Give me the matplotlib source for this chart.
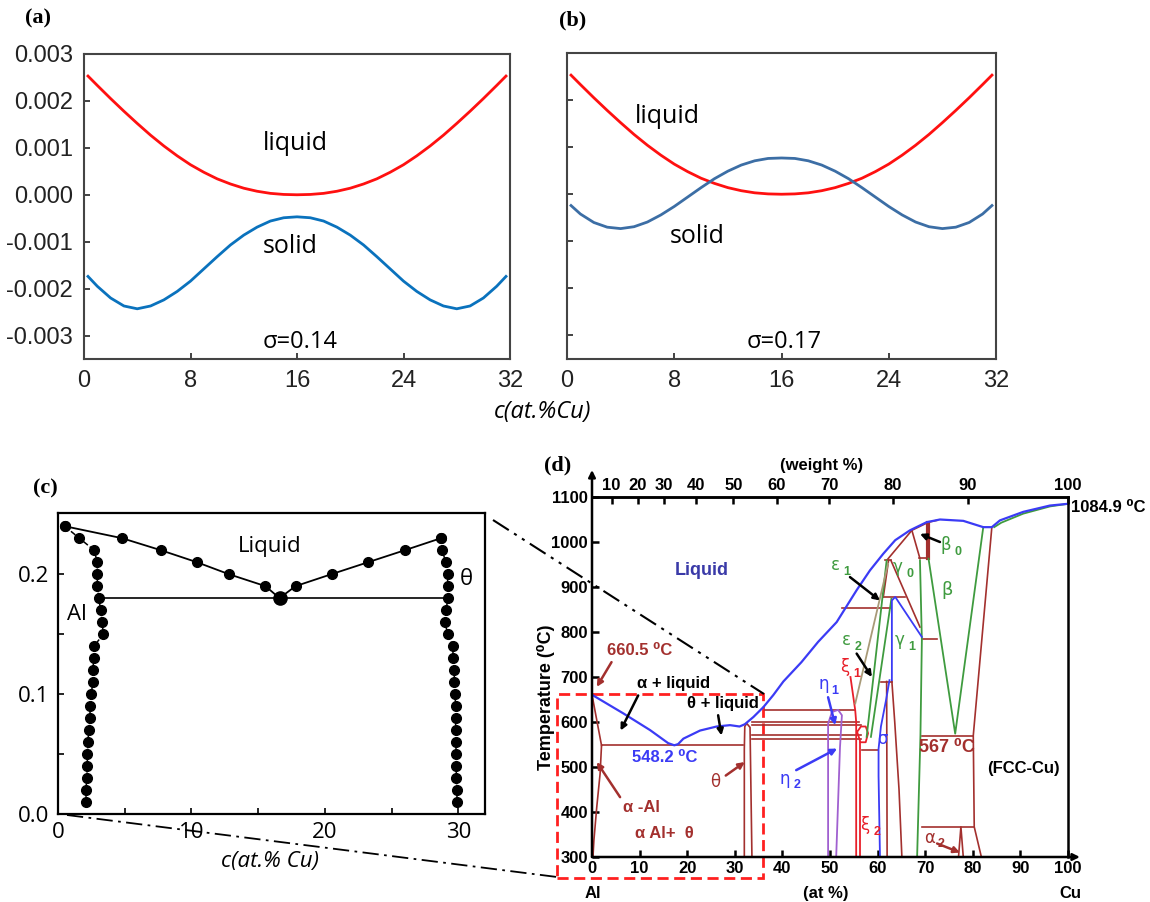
import matplotlib
matplotlib.use("Agg")
import matplotlib.pyplot as plt
from matplotlib.lines import Line2D
from matplotlib.patches import Rectangle

W, H = 1150, 902

# ---------------- (a) / (b): free energy vs composition (values x1e-3) ----------------
c_ab = [0.3, 1, 2, 3, 4, 5, 6, 7, 8, 9, 10, 11, 12, 13, 14, 15, 16,
        17, 18, 19, 20, 21, 22, 23, 24, 25, 26, 27, 28, 29, 30, 31, 31.7]
liquid_a = [2.53, 2.33, 2.05, 1.78, 1.52, 1.27, 1.04, 0.83, 0.64, 0.48, 0.34, 0.23, 0.14,
            0.075, 0.03, 0.007, 0.0,
            0.007, 0.03, 0.075, 0.14, 0.23, 0.34, 0.48, 0.64, 0.83, 1.04, 1.27, 1.52,
            1.78, 2.05, 2.33, 2.53]
solid_a = [-1.74, -1.95, -2.20, -2.37, -2.43, -2.37, -2.24, -2.06, -1.84, -1.58, -1.32,
           -1.07, -0.86, -0.69, -0.56, -0.49, -0.47,
           -0.49, -0.56, -0.69, -0.86, -1.07, -1.32, -1.58, -1.84, -2.06, -2.24, -2.37,
           -2.43, -2.37, -2.20, -1.95, -1.74]
liquid_b = liquid_a
solid_b = [-0.24, -0.42, -0.60, -0.70, -0.73, -0.69, -0.59, -0.44, -0.26, -0.06, 0.14,
           0.33, 0.49, 0.62, 0.71, 0.76, 0.77,
           0.76, 0.71, 0.62, 0.49, 0.33, 0.14, -0.06, -0.26, -0.44, -0.59, -0.69,
           -0.73, -0.70, -0.60, -0.42, -0.24]
ab_xticks = [0, 8, 16, 24, 32]
ab_yticks = [0.003, 0.002, 0.001, 0.0, -0.001, -0.002, -0.003]

# ---------------- (c): computed phase diagram ----------------
liq_left_c = [0.5, 4.8, 7.7, 10.4, 12.8, 15.55, 16.6]
liq_left_y = [0.24, 0.23, 0.22, 0.21, 0.20, 0.19, 0.18]
liq_right_c = [16.6, 17.8, 20.5, 23.25, 26.0, 28.7]
liq_right_y = [0.18, 0.19, 0.20, 0.21, 0.22, 0.23]
sol_left_y = [0.24, 0.23, 0.22, 0.21, 0.20, 0.19, 0.18, 0.17, 0.16, 0.15, 0.14, 0.13,
              0.12, 0.11, 0.10, 0.09, 0.08, 0.07, 0.06, 0.05, 0.04, 0.03, 0.02, 0.01]
sol_left_c = [0.5, 1.6, 2.7, 2.95, 2.95, 2.95, 3.05, 3.2, 3.3, 3.4, 2.7, 2.7,
              2.6, 2.6, 2.5, 2.4, 2.4, 2.3, 2.25, 2.2, 2.2, 2.15, 2.1, 2.1]
sol_right_y = [0.23, 0.22, 0.21, 0.20, 0.19, 0.18, 0.17, 0.16, 0.15, 0.14, 0.13, 0.12,
               0.11, 0.10, 0.09, 0.08, 0.07, 0.06, 0.05, 0.04, 0.03, 0.02, 0.01]
sol_right_c = [28.7, 28.8, 29.05, 29.2, 29.2, 29.2, 29.1, 29.0, 29.2, 29.6, 29.6, 29.7,
               29.7, 29.75, 29.8, 29.8, 29.8, 29.8, 29.85, 29.85, 29.85, 29.9, 29.9]
eut_c = [3.05, 29.2]
eut_y = 0.18

# ---------------- (d): Al-Cu phase diagram ----------------
liq_at = [0, 6.6, 12.2, 16.0, 17.3, 18.1, 19.2, 22.7, 26.2, 29.0, 31.0, 32.1, 33.9, 36.0,
          38.1, 40.2, 44.0, 47.5, 51.4, 55.6, 58.4, 61.2, 63.7, 66.8, 70.3, 73.1, 78.0,
          82.2, 84.0, 85.7, 90.6, 96.2, 100]
liq_T = [660.5, 619, 582, 553, 548.2, 551, 563, 581, 590, 593, 590, 595, 611, 633,
         660, 690, 733, 778, 822, 893, 937, 974, 1004, 1026, 1044, 1050, 1047,
         1033, 1033, 1048, 1067, 1081, 1084.9]

brown_lines = [
    ([0, 2.0], [660.5, 548]),
    ([2.0, 1.7, 1.0, 0.4, 0.2], [548, 485, 411, 337, 300]),
    ([2.0, 31.8], [550, 550]),
    ([32.0, 32.0, 32.1, 32.5, 33.2, 33.6], [300, 540, 590, 597, 588, 300]),
    ([36.3, 55.3], [627, 627]),
    ([33.6, 56.0], [600, 600]),
    ([33.6, 56.5], [593, 593]),
    ([33.6, 56.5], [571, 571]),
    ([33.6, 56.5], [563, 563]),
    ([56.7, 60.0], [537, 537]),
    ([60.8, 63.0], [690, 690]),
    ([61.9, 62.0], [690, 300]),
    ([63.0, 63.6, 64.5, 65.1], [690, 600, 450, 300]),
    ([52.5, 62.6], [853, 853]),
    ([61.5, 62.8], [959, 959]),
    ([62.3, 61.2], [959, 878]),
    ([61.1, 65.8], [878, 878]),
    ([62.8, 68.9], [959, 811]),
    ([61.9, 67.2], [959, 1026]),
    ([67.2, 68.9], [1026, 963]),
    ([67.2, 70.7, 72.4], [1026, 1044, 1048]),
    ([68.6, 70.7], [965, 965]),
    ([69.3, 72.4], [785, 785]),
    ([84.0, 80.1, 80.3, 81.8], [1033, 570, 367, 300]),
    ([69.3, 80.1], [570, 570]),
    ([69.3, 80.3], [367, 367]),
    ([77.0, 77.5, 78.0], [300, 367, 300]),
]
beta0_bar = ([70.5, 70.5], [1043, 965])
red_lines = [
    ([54.3, 55.3, 55.5, 55.5], [700, 626, 600, 300]),
    ([56.4, 56.4], [300, 555]),
    ([55.7, 56.5, 57.5, 58.0, 57.5, 56.4, 55.7], [578, 590, 590, 575, 555, 555, 578]),
]
green_lines = [
    ([84.5, 86.0, 90.6, 96.2, 100], [1033, 1043, 1063, 1079, 1084.9]),
    ([70.7, 76.3, 82.2], [963, 574, 1033]),
    ([68.9, 69.3, 69.0, 68.3], [959, 782, 570, 300]),
    ([57.7, 61.9], [567, 959]),
    ([58.6, 62.9], [567, 874]),
]
tan_lines = [([55.3, 62.2], [641, 952])]
blue_lines = [
    ([69.3, 63.7, 63.0, 63.0], [789, 878, 870, 693]),
    ([62.5, 61.8, 60.7, 60.2, 60.2, 60.5], [693, 650, 590, 540, 480, 300]),
]
purple_lines = [
    ([49.6, 49.6, 50.4, 51.7, 52.5, 52.1, 51.3], [300, 596, 622, 627, 615, 544, 300]),
]
wt_pos = [4.1, 9.6, 15.1, 21.8, 29.7, 38.8, 49.8, 63.2, 79.0, 100]
wt_labels = ["10", "20", "30", "40", "50", "60", "70", "80", "90", "100"]

BROWN = "#a3302e"
RED = "#e8202a"
GREEN = "#3f9b3f"
BLUE = "#3b3bf5"
PURPLE = "#a060d0"
TAN = "#a89a78"
DBLUE = "#3a3aa8"


def box(l, t, r, b):
    return [l / W, 1 - b / H, (r - l) / W, (b - t) / H]


def fx(px):
    return px / W


def fy(py):
    return 1 - py / H


fig = plt.figure(figsize=(11.5, 9.02), dpi=100)

ax_a = fig.add_axes(box(84, 54, 510, 359))
ax_b = fig.add_axes(box(567, 53, 996, 359))
ax_c = fig.add_axes(box(58, 513, 485, 814))
ax_d = fig.add_axes(box(592, 497, 1068, 857))

# ---- (a) and (b)
for ax, liq, sol, blue, sig in [(ax_a, liquid_a, solid_a, "#0a72bd", "σ=0.14"),
                                (ax_b, liquid_b, solid_b, "#3c6ea5", "σ=0.17")]:
    ax.plot(c_ab, [v * 1e-3 for v in liq], color="#ff1010", lw=2)
    ax.plot(c_ab, [v * 1e-3 for v in sol], color=blue, lw=2)
    ax.set_xlim(0, 32)
    ax.set_ylim(-0.0035, 0.003)
    ax.set_xticks(ab_xticks)
    ax.set_yticks(ab_yticks)
    ax.tick_params(direction="in", length=4, width=1.2, labelsize=17, pad=8,
                   colors="#222222")
    for s in ax.spines.values():
        s.set_linewidth(1.5)
        s.set_color("#444444")
    for lbl in ax.get_xticklabels() + ax.get_yticklabels():
        lbl.set_family("Liberation Sans")
    ax.text(16.2, -0.00313, sig, ha="center", va="center", fontsize=17,
            family="Open Sans")

ax_a.set_yticklabels(["%.3f" % v for v in ab_yticks])
for lbl in ax_a.get_yticklabels():
    lbl.set_family("Liberation Sans")
ax_b.set_yticklabels([])
ax_a.text(15.9, 0.00109, "liquid", ha="center", va="center", fontsize=18, family="Open Sans")
ax_a.text(15.5, -0.0011, "solid", ha="center", va="center", fontsize=18, family="Open Sans")
ax_b.text(7.5, 0.00166, "liquid", ha="center", va="center", fontsize=18, family="Open Sans")
ax_b.text(9.7, -0.0009, "solid", ha="center", va="center", fontsize=18, family="Open Sans")

fig.text(fx(543), fy(412), "c(at.%Cu)", ha="center", va="center", fontsize=17,
         style="italic", family="Open Sans")

# ---- (c)
ax_c.plot(liq_left_c, liq_left_y, "k-", lw=1.3, marker="o", ms=7)
ax_c.plot(liq_right_c, liq_right_y, "k-", lw=1.3, marker="o", ms=7)
ax_c.plot(sol_left_c, sol_left_y, "k--", lw=1.1, marker="o", ms=7)
ax_c.plot(sol_right_c, sol_right_y, "k--", lw=1.1, marker="o", ms=7)
ax_c.plot(eut_c, [eut_y, eut_y], "k-", lw=1.2)
ax_c.plot([16.6], [0.18], "ko", ms=9.5)
ax_c.set_xlim(0, 32)
ax_c.set_ylim(0, 0.251)
ax_c.set_xticks([0, 10, 20, 30])
ax_c.set_xticks([5, 15, 25], minor=True)
ax_c.set_yticks([0.0, 0.1, 0.2])
ax_c.set_yticklabels(["0.0", "0.1", "0.2"])
ax_c.set_yticks([0.05, 0.15], minor=True)
ax_c.tick_params(which="both", direction="in", length=4, width=1.2, labelsize=16, pad=6)
for s in ax_c.spines.values():
    s.set_linewidth(1.6)
for lbl in ax_c.get_xticklabels() + ax_c.get_yticklabels():
    lbl.set_family("Open Sans")
ax_c.text(15.9, 0.2228, "Liquid", ha="center", va="center", fontsize=16, family="Open Sans")
ax_c.text(30.6, 0.1956, "θ", ha="center", va="center", fontsize=16, family="Open Sans")
ax_c.text(1.4, 0.1667, "Al", ha="center", va="center", fontsize=16, family="Open Sans")
fig.text(fx(270), fy(862), "c(at.% Cu)", ha="center", va="center", fontsize=16,
         style="italic", family="Open Sans")

# ---- (d)
for xs, ts in brown_lines:
    ax_d.plot(xs, ts, color=BROWN, lw=1.2)
ax_d.plot(*beta0_bar, color=BROWN, lw=3)
for xs, ts in red_lines:
    ax_d.plot(xs, ts, color=RED, lw=1.3)
for xs, ts in green_lines:
    ax_d.plot(xs, ts, color=GREEN, lw=1.3)
for xs, ts in tan_lines:
    ax_d.plot(xs, ts, color=TAN, lw=1.3)
for xs, ts in blue_lines:
    ax_d.plot(xs, ts, color=BLUE, lw=1.3)
for xs, ts in purple_lines:
    ax_d.plot(xs, ts, color=PURPLE, lw=1.3)
ax_d.plot(liq_at, liq_T, color=BLUE, lw=1.6)

ax_d.set_xlim(0, 100)
ax_d.set_ylim(300, 1100)
ax_d.set_xticks(range(0, 101, 10))
ax_d.set_yticks(range(300, 1101, 100))
ax_d.spines["left"].set_visible(False)
ax_d.spines["bottom"].set_visible(False)
ax_d.spines["top"].set_linewidth(1.8)
ax_d.spines["right"].set_linewidth(1.8)
ax_d.tick_params(direction="in", length=5, width=1.8, labelsize=12, pad=3)
for lbl in ax_d.get_xticklabels() + ax_d.get_yticklabels():
    lbl.set_family("Liberation Sans")
    lbl.set_fontweight("bold")
arr = dict(arrowstyle="-|>", color="k", lw=1.8, mutation_scale=10, shrinkA=0, shrinkB=0)
ax_d.annotate("", xy=(0, 1160), xytext=(0, 300), arrowprops=arr, annotation_clip=False)
ax_d.annotate("", xy=(102.5, 300), xytext=(0, 300), arrowprops=arr, annotation_clip=False)

sec = ax_d.secondary_xaxis("top")
sec.set_xticks(wt_pos)
sec.set_xticklabels(wt_labels)
sec.tick_params(direction="in", length=5, width=1.8, labelsize=12, pad=3)
sec.spines["top"].set_linewidth(1.8)
for lbl in sec.get_xticklabels():
    lbl.set_family("Liberation Sans")
    lbl.set_fontweight("bold")

ax_d.add_patch(Rectangle((-7.4, 254), 43.4, 407.6, fill=False, ec="#ff2020", lw=2,
                         ls=(0, (4, 2)), clip_on=False))

BF = ["Liberation Sans", "DejaVu Sans"]


def dtext(x, y, s, color="k", size=12, weight="bold", ha="center", rot=0):
    ax_d.text(x, y, s, color=color, fontsize=size, fontweight=weight, family=BF,
              ha=ha, va="center", rotation=rot, clip_on=False)


def greek(x, y, letter, sub, color):
    ax_d.text(x, y, letter, color=color, fontsize=12, family="DejaVu Sans",
              ha="center", va="center")
    if sub:
        ax_d.text(x + 2.5, y - 15, sub, color=color, fontsize=9, fontweight="bold",
                  family=BF, ha="center", va="center")


def darrow(x0, y0, x1, y1, color="k"):
    ax_d.annotate("", xy=(x1, y1), xytext=(x0, y0),
                  arrowprops=dict(arrowstyle="-|>", color=color, lw=1.8,
                                  mutation_scale=9, shrinkA=0, shrinkB=0))


dtext(23, 937, "Liquid", color=DBLUE, size=13)
dtext(10.1, 759, "660.5 \u2070C", color=BROWN)
dtext(17.1, 685, "α + liquid")
dtext(27.6, 641, "θ + liquid")
dtext(15.3, 522, "548.2 \u2070C", color=BLUE)
dtext(10.4, 411, "α -Al", color=BROWN)
dtext(15.3, 353, "α Al+  θ", color=BROWN)
dtext(74.5, 544, "567 \u2070C", color=BROWN, size=13)
dtext(90.6, 496, "(FCC-Cu)")
ax_d.text(25.8, 467, "θ", color=BROWN, fontsize=12, family="DejaVu Sans",
          ha="center", va="center")
ax_d.text(74.5, 893, "β", color=GREEN, fontsize=13, family="DejaVu Sans",
          ha="center", va="center")
ax_d.text(60.9, 563, "σ", color=BLUE, fontsize=12, family="DejaVu Sans",
          ha="center", va="center")
greek(48.6, 685, "η", "1", BLUE)
greek(40.5, 474, "η", "2", BLUE)
greek(53.2, 722, "ξ", "1", RED)
greek(57.4, 370, "ξ", "2", RED)
greek(51.1, 948, "ε", "1", GREEN)
greek(53.5, 782, "ε", "2", GREEN)
greek(64.3, 944, "γ", "0", GREEN)
greek(64.7, 782, "γ", "1", GREEN)
greek(74.4, 993, "β", "0", GREEN)
greek(70.9, 343, "α", "2", BROWN)

darrow(4.1, 733, 1.0, 678, BROWN)
darrow(9.7, 659, 6.0, 581)
darrow(26.5, 615, 27.2, 570)
darrow(28.1, 481, 32.1, 511, BROWN)
darrow(5.9, 433, 1.0, 511, BROWN)
darrow(49.6, 655, 51.1, 593, BLUE)
darrow(42.9, 493, 51.5, 541, BLUE)
darrow(54.2, 922, 60.5, 870)
darrow(55.6, 752, 58.8, 700)
darrow(73.1, 1000, 68.9, 1018)
darrow(72.5, 330, 77.3, 310, BROWN)

dtext(-9.7, 655, "Temperature (\u2070C)", size=13, rot=90)
dtext(0.2, 219, "Al")
dtext(49.2, 219, "(at %)")
dtext(100.6, 219, "Cu")
dtext(48.3, 1170, "(weight %)")
dtext(100.6, 1077, "1084.9 \u2070C", ha="left")

# ---- panel labels and connector lines
for s, x, y in [("(a)", 38, 18), ("(b)", 573, 20), ("(c)", 45, 488), ("(d)", 558, 465)]:
    fig.text(fx(x), fy(y), s, ha="center", va="center", fontsize=16,
             fontweight="bold", family="Liberation Serif")

fig.add_artist(Line2D([fx(493), fx(764)], [fy(520), fy(694)], color="k", lw=1.5,
                      ls=(0, (9, 3, 1.5, 3, 1.5, 3))))
fig.add_artist(Line2D([fx(67), fx(557)], [fy(815), fy(877)], color="k", lw=1.3,
                      ls=(0, (9, 3, 1.5, 3))))

fig.savefig("out.png", dpi=100)
